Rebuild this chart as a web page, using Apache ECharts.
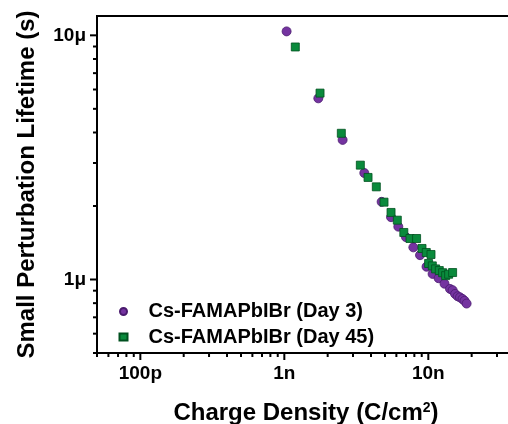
<!DOCTYPE html>
<html>
<head>
<meta charset="utf-8">
<script src="https://cdn.jsdelivr.net/npm/echarts@6/dist/echarts.min.js"></script>
<style>
html,body{margin:0;padding:0;background:#fff;}
#c{width:508px;height:424px;}
</style>
</head>
<body>
<div id="c"></div>
<script>
// Data (charge density in C/cm^2, lifetime in s)
var day3X = [1.037e-9, 1.722e-9, 2.54e-9, 3.594e-9, 4.74e-9, 5.51e-9, 6.19e-9, 7.0e-9, 7.87e-9, 8.76e-9, 9.72e-9, 1.071e-8, 1.179e-8, 1.296e-8, 1.415e-8, 1.475e-8, 1.535e-8, 1.598e-8, 1.66e-8, 1.728e-8, 1.784e-8, 1.845e-8];
var day3Y = [10.38e-6, 5.52e-6, 3.73e-6, 2.73e-6, 2.08e-6, 1.80e-6, 1.646e-6, 1.491e-6, 1.354e-6, 1.258e-6, 1.128e-6, 1.054e-6, 1.012e-6, 0.961e-6, 0.915e-6, 0.904e-6, 0.873e-6, 0.854e-6, 0.845e-6, 0.832e-6, 0.818e-6, 0.797e-6];
var day45X = [1.192e-9, 1.77e-9, 2.488e-9, 3.372e-9, 3.814e-9, 4.354e-9, 4.925e-9, 5.51e-9, 6.09e-9, 6.76e-9, 7.46e-9, 8.29e-9, 9.04e-9, 9.68e-9, 1.044e-8, 1.005e-8, 1.066e-8, 1.124e-8, 1.192e-8, 1.257e-8, 1.319e-8, 1.384e-8, 1.475e-8];
var day45Y = [8.96e-6, 5.80e-6, 3.97e-6, 2.94e-6, 2.618e-6, 2.396e-6, 2.074e-6, 1.882e-6, 1.75e-6, 1.558e-6, 1.472e-6, 1.472e-6, 1.34e-6, 1.29e-6, 1.266e-6, 1.163e-6, 1.137e-6, 1.105e-6, 1.088e-6, 1.066e-6, 1.037e-6, 1.051e-6, 1.068e-6];
var seriesNames = ['Cs-FAMAPbIBr (Day 3)', 'Cs-FAMAPbIBr (Day 45)'];
var xTickExp = [-10, -9, -8];
var xTickLabels = ['100p', '1n', '10n'];
var yTickExp = [-6, -5];
var yTickLabels = ['1\u03bc', '10\u03bc'];
var xRange = [5e-11, 4e-8];
var yRange = [0.5e-6, 12e-6];

function zip(a, b) { return a.map(function (v, i) { return [v, b[i]]; }); }
function labelFor(v, exps, labels) {
  var e = Math.log10(v);
  var r = Math.round(e);
  if (Math.abs(e - r) > 1e-6) return '';
  var i = exps.indexOf(r);
  return i >= 0 ? labels[i] : '';
}

var FONT = '"Liberation Sans", Arial, sans-serif';
var chart = echarts.init(document.getElementById('c'), null, {renderer: 'canvas'});
var option = {
  animation: false,
  backgroundColor: '#fff',
  grid: {left: 97, top: 16, width: 418, height: 337, outerBoundsMode: 'none', containLabel: false,
    show: true, borderColor: '#000', borderWidth: 2, backgroundColor: 'transparent'},
  xAxis: {
    type: 'log', logBase: 10, min: xRange[0], max: xRange[1],
    splitLine: {show: false},
    axisLine: {show: true, onZero: false, lineStyle: {color: '#000', width: 2}},
    axisTick: {show: false},
    axisLabel: {
      margin: 11, color: '#000', fontFamily: FONT, fontWeight: 'bold', fontSize: 19,
      showMinLabel: false, showMaxLabel: false,
      formatter: function (v) { return labelFor(v, xTickExp, xTickLabels); }
    },
    name: 'Charge Density (C/cm{sup|2})',
    nameLocation: 'middle', nameGap: 48,
    nameTextStyle: {color: '#000', fontFamily: FONT, fontWeight: 'bold', fontSize: 24,
      rich: {sup: {fontSize: 14, fontFamily: FONT, fontWeight: 'bold', color: '#000', verticalAlign: 'top', padding: [0, 0, 10, 0]}}}
  },
  yAxis: {
    type: 'log', logBase: 10, min: yRange[0], max: yRange[1],
    splitLine: {show: false},
    axisLine: {show: true, onZero: false, lineStyle: {color: '#000', width: 2}},
    axisTick: {show: false},
    axisLabel: {
      margin: 11, color: '#000', fontFamily: FONT, fontWeight: 'bold', fontSize: 19,
      showMinLabel: false, showMaxLabel: false,
      formatter: function (v) { return labelFor(v, yTickExp, yTickLabels); }
    },
    name: 'Small Perturbation Lifetime (s)',
    nameLocation: 'middle', nameGap: 58,
    nameTextStyle: {color: '#000', fontFamily: FONT, fontWeight: 'bold', fontSize: 24}
  },
  legend: {
    orient: 'vertical', left: 118.5, top: 301.5, padding: 0,
    itemWidth: 8, itemHeight: 7, itemGap: 5.6,
    textStyle: {color: '#000', fontFamily: FONT, fontWeight: 'bold', fontSize: 20, lineHeight: 20, padding: [0, 0, 0, 16]},
    data: [{name: seriesNames[0], icon: 'circle'}, {name: seriesNames[1], icon: 'rect'}]
  },
  series: [
    {name: seriesNames[0], type: 'scatter', symbol: 'circle', symbolSize: 9,
      itemStyle: {color: '#7433A0', borderColor: '#4a1a6e', borderWidth: 0.8, opacity: 1},
      data: zip(day3X, day3Y)},
    {name: seriesNames[1], type: 'scatter', symbol: 'rect', symbolSize: 8,
      itemStyle: {color: '#0A8A3C', borderColor: '#00501f', borderWidth: 0.8, opacity: 1},
      data: zip(day45X, day45Y)}
  ]
};
chart.setOption(option);

// Log-scale ticks (major at decades, minor at 2..9), placed through the axes' own scales
var g = [];
var x0 = chart.convertToPixel({xAxisIndex: 0}, xRange[0]);
var yB = chart.convertToPixel({yAxisIndex: 0}, yRange[0]);
function addTicks(axis) {
  var range = axis === 'x' ? xRange : yRange;
  var dStart = Math.floor(Math.log10(range[0])), dEnd = Math.ceil(Math.log10(range[1]));
  for (var d = dStart; d <= dEnd; d++) {
    for (var m = 1; m <= 9; m++) {
      var v = m * Math.pow(10, d);
      if (v < range[0] * 0.999 || v > range[1] * 1.001) continue;
      var len = m === 1 ? 7 : 4;
      if (axis === 'x') {
        var px = chart.convertToPixel({xAxisIndex: 0}, v);
        g.push({type: 'line', shape: {x1: px, y1: yB, x2: px, y2: yB + len}, style: {stroke: '#000', lineWidth: 2}, z: 10});
      } else {
        var py = chart.convertToPixel({yAxisIndex: 0}, v);
        g.push({type: 'line', shape: {x1: x0, y1: py, x2: x0 - len, y2: py}, style: {stroke: '#000', lineWidth: 2}, z: 10});
      }
    }
  }
}
addTicks('x');
addTicks('y');
chart.setOption({graphic: g});
</script>
</body>
</html>
